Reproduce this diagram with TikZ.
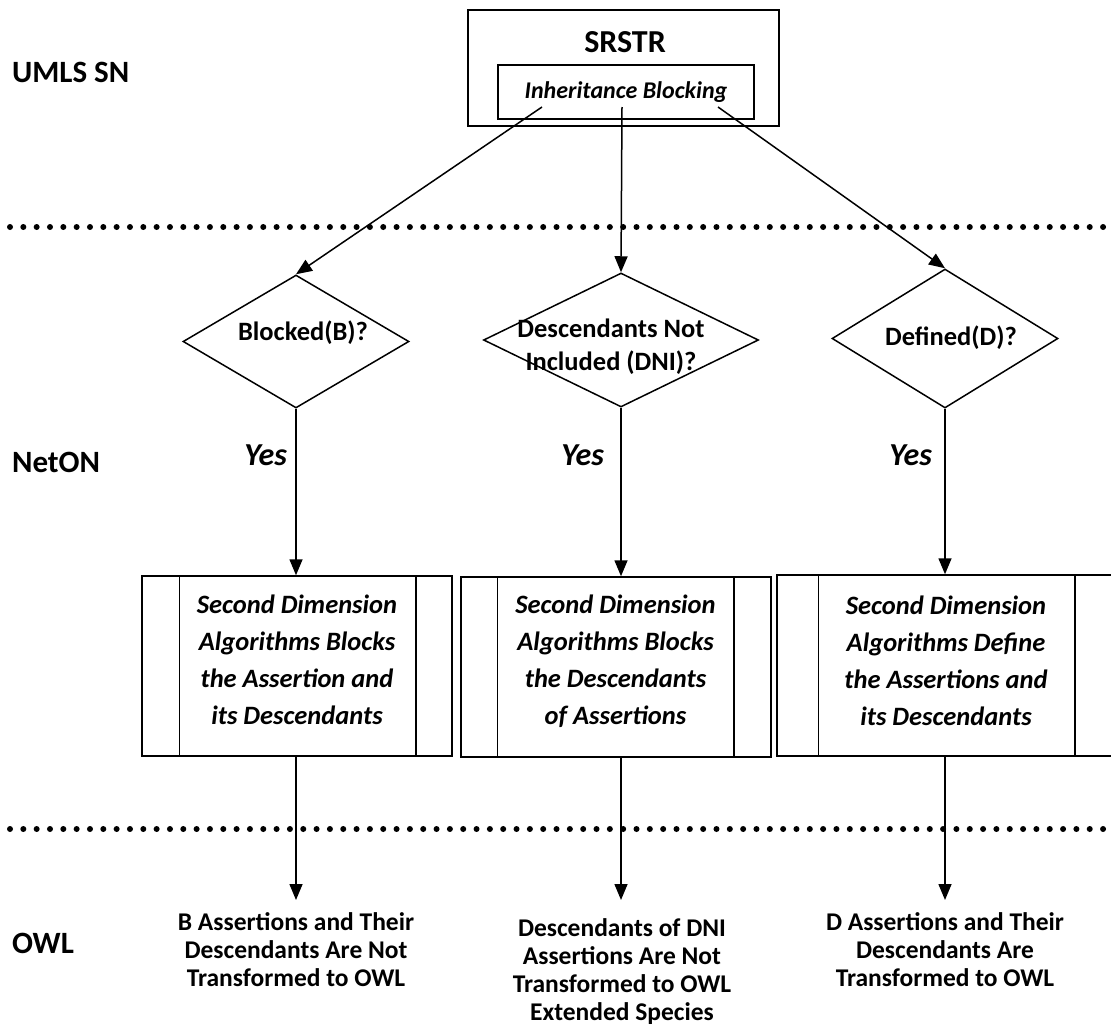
\documentclass[tikz,border=0pt]{standalone}
\usepackage{fontspec}
\setmainfont{Carlito}
\usetikzlibrary{shapes.geometric,arrows.meta,calc}
\begin{document}
\begin{tikzpicture}[x=1pt,y=-1pt,
  line width=1.5pt,
  layer/.style={anchor=west,font=\bfseries\fontsize{31}{36}\selectfont},
  decision/.style={draw,diamond,inner sep=0pt},
  dectext/.style={align=center,font=\bfseries\fontsize{26.5}{33}\selectfont},
  procbox/.style={draw,rectangle,inner sep=0pt},
  proctext/.style={align=center,font=\bfseries\itshape\fontsize{26.5}{37}\selectfont},
  result/.style={align=center,font=\bfseries\fontsize{25.5}{28}\selectfont,inner sep=12pt,anchor=north},
  yeslbl/.style={anchor=east,font=\bfseries\itshape\fontsize{32}{36}\selectfont},
  flow/.style={-{Triangle[length=16pt,width=13pt]}},
  sepline/.style={line width=6pt,line cap=round,dash pattern=on 0pt off 13.33pt}
]
\useasboundingbox (0,0) rectangle (1111,1028);

% layer names
\node[layer] (umls) at (8,72) {UMLS SN};
\node[layer] (neton) at (8,462) {NetON};
\node[layer] (owl) at (8,943) {OWL};

% layer separators
\draw[sepline] (10,227) -- (1120,227);
\draw[sepline] (10,829) -- (1120,829);

% source box
\node[procbox, minimum width=311pt, minimum height=116pt] (srstr) at (623.5,68) {};
\node[font=\bfseries\fontsize{32}{36}\selectfont] (srstrtitle) at (625,42) {SRSTR};
\node[procbox, minimum width=256pt, minimum height=54pt,
      font=\bfseries\itshape\fontsize{24}{28}\selectfont] (ib) at (626,92) {Inheritance Blocking};
\coordinate (s1) at (542,107);
\coordinate (s2) at (622,107);
\coordinate (s3) at (718,107);

% decisions
\node[decision, minimum width=226pt, minimum height=133pt] (d1) at (296,341.5) {};
\node[decision, minimum width=275pt, minimum height=134pt] (d2) at (621,340) {};
\node[decision, minimum width=226pt, minimum height=139pt] (d3) at (945,338.5) {};
\node[dectext] (d1t) at (303,333) {Blocked(B)?};
\node[dectext] (d2t) at (611,347) {Descendants Not\\Included (DNI)?};
\node[dectext] (d3t) at (951,338) {Defined(D)?};

% processes
\node[procbox, minimum width=310pt, minimum height=180pt] (p1) at (297,666) {};
\node[procbox, minimum width=310pt, minimum height=180pt] (p2) at (616,667) {};
\node[procbox, minimum width=335pt, minimum height=181pt] (p3) at (944.5,665.5) {};
\draw ([xshift=38pt]p1.north west) -- ([xshift=38pt]p1.south west);
\draw ([xshift=-37pt]p1.north east) -- ([xshift=-37pt]p1.south east);
\draw ([xshift=37pt]p2.north west) -- ([xshift=37pt]p2.south west);
\draw ([xshift=-38pt]p2.north east) -- ([xshift=-38pt]p2.south east);
\draw ([xshift=42pt]p3.north west) -- ([xshift=42pt]p3.south west);
\draw ([xshift=-38pt]p3.north east) -- ([xshift=-38pt]p3.south east);
\node[proctext] (p1t) at (297,660) {Second Dimension\\Algorithms Blocks\\the Assertion and\\its Descendants};
\node[proctext] (p2t) at (615.5,661) {Second Dimension\\Algorithms Blocks\\the Descendants\\of Assertions};
\node[proctext] (p3t) at (946,661) {Second Dimension\\Algorithms Define\\the Assertions and\\its Descendants};

% results
\node[result] (r1) at (296,900) {B Assertions and Their\\Descendants Are Not\\Transformed to OWL};
\node[result] (r2) at (622,900) {\rule{0pt}{24pt}Descendants of DNI\\Assertions Are Not\\Transformed to OWL\\Extended Species};
\node[result] (r3) at (945,900) {D Assertions and Their\\Descendants Are\\Transformed to OWL};

% connectors
\draw[flow] (s1) -- (d1.north);
\draw[flow] (s2) -- (d2.north);
\draw[flow] (s3) -- (d3.north);
\draw[flow] (d1.south) -- (d1.south |- p1.north);
\draw[flow] (d2.south) -- (d2.south |- p2.north);
\draw[flow] (d3.south) -- (d3.south |- p3.north);
\draw[flow] (d1.south |- p1.south) -- (d1.south |- r1.north);
\draw[flow] (d2.south |- p2.south) -- (d2.south |- r2.north);
\draw[flow] (d3.south |- p3.south) -- (d3.south |- r3.north);

% answers
\node[yeslbl] (y1) at (291,455) {Yes};
\node[yeslbl] (y2) at (608,455) {Yes};
\node[yeslbl] (y3) at (936,455) {Yes};
\end{tikzpicture}
\end{document}
